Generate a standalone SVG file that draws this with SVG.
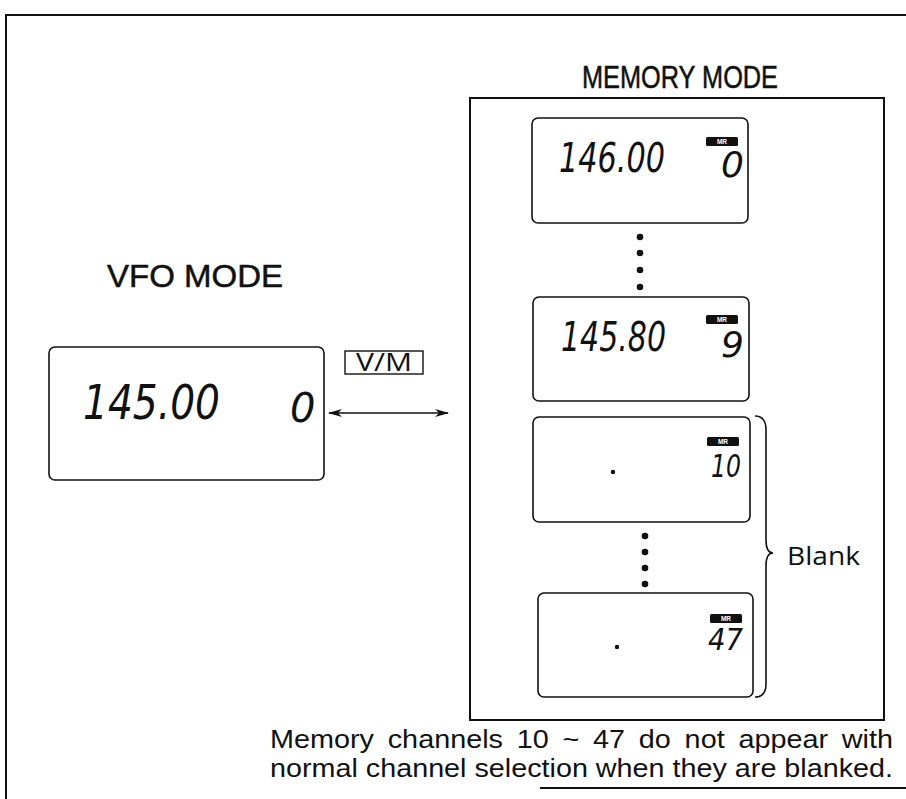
<svg xmlns="http://www.w3.org/2000/svg" width="906" height="799" viewBox="0 0 906 799">
<style>
.frame{fill:none;stroke:#111;stroke-width:2}
.lcd{fill:#fff;stroke:#111;stroke-width:1.6}
.title{font-family:"Liberation Sans",Arial,sans-serif;font-size:32px;fill:#111;stroke:#111;stroke-width:0.5}
.body{font-family:"Open Sans","Liberation Sans",sans-serif;font-size:26px;fill:#111}
.note{font-family:"Liberation Sans",Arial,sans-serif;font-size:25px;fill:#111}
.seg{font-family:"DejaVu Sans",sans-serif;font-style:italic;fill:#111}
.badge{fill:#111}
.badgetxt{font-family:"Liberation Sans",Arial,sans-serif;font-size:6.5px;font-weight:bold;fill:#fff}
.dot{fill:#111}
</style>
<defs>
<marker id="ah" viewBox="0 0 14 8" refX="13" refY="4" markerWidth="14" markerHeight="8" markerUnits="userSpaceOnUse" orient="auto-start-reverse">
<path d="M0,0 L14,4 L0,8 L4,4 Z" fill="#111"/>
</marker>
</defs>
<rect width="906" height="799" fill="#fff"/>
<g id="border">
<path class="frame" d="M906,15 L6,15 L6,799"/>
<path class="frame" d="M540,788 L906,788"/>
</g>
<g id="vfo-title"><text class="title" x="107" y="287" font-size="30" textLength="176" lengthAdjust="spacingAndGlyphs">VFO  MODE</text></g>
<g id="memory-title"><text class="title" x="582" y="88" textLength="196" lengthAdjust="spacingAndGlyphs">MEMORY  MODE</text></g>
<g id="vfo-display">
<rect class="lcd" x="49" y="347" width="275" height="133" rx="6"/>
<text class="seg" x="83" y="419" font-size="48" textLength="137" lengthAdjust="spacingAndGlyphs">145.00</text>
<text class="seg" x="290" y="422" font-size="40">0</text>
</g>
<g id="vm-key">
<rect x="345" y="351" width="78" height="23" fill="#fff" stroke="#111" stroke-width="1.4"/>
<text class="body" x="356" y="370.5" font-size="22" textLength="56" lengthAdjust="spacingAndGlyphs">V/M</text>
</g>
<g id="memory-box">
<rect class="frame" x="470" y="98" width="414" height="622"/>
</g>
<g id="mem-0">
<rect class="lcd" x="532" y="118" width="216" height="105" rx="6"/>
<text class="seg" x="559" y="172" font-size="40" textLength="106" lengthAdjust="spacingAndGlyphs">146.00</text>
<rect class="badge" x="706" y="137" width="32" height="9" rx="1.5"/>
<text class="badgetxt" x="722" y="144" text-anchor="middle">MR</text>
<text class="seg" x="721" y="177" font-size="36">0</text>
</g>
<g id="mem-9">
<rect class="lcd" x="533" y="297" width="216" height="104" rx="6"/>
<text class="seg" x="561" y="351" font-size="40" textLength="105" lengthAdjust="spacingAndGlyphs">145.80</text>
<rect class="badge" x="706" y="315" width="32" height="9" rx="1.5"/>
<text class="badgetxt" x="722" y="322" text-anchor="middle">MR</text>
<text class="seg" x="721" y="357" font-size="36">9</text>
</g>
<g id="mem-10">
<rect class="lcd" x="533" y="417" width="217" height="105" rx="6"/>
<circle class="dot" cx="613" cy="472" r="2.2"/>
<rect class="badge" x="707" y="437" width="32" height="9" rx="1.5"/>
<text class="badgetxt" x="723" y="444" text-anchor="middle">MR</text>
<text class="seg" x="711" y="477" font-size="32" textLength="30" lengthAdjust="spacingAndGlyphs">10</text>
</g>
<g id="mem-47">
<rect class="lcd" x="538" y="593" width="215" height="104" rx="6"/>
<circle class="dot" cx="617" cy="647" r="2.2"/>
<rect class="badge" x="710" y="614" width="32" height="9" rx="1.5"/>
<text class="badgetxt" x="726" y="621" text-anchor="middle">MR</text>
<text class="seg" x="708" y="650" font-size="30" textLength="35" lengthAdjust="spacingAndGlyphs">47</text>
</g>
<g id="ellipsis">
<circle class="dot" cx="640" cy="237" r="3.3"/>
<circle class="dot" cx="640" cy="253" r="3.3"/>
<circle class="dot" cx="640" cy="270" r="3.3"/>
<circle class="dot" cx="640" cy="287" r="3.3"/>
<circle class="dot" cx="645" cy="536" r="3.3"/>
<circle class="dot" cx="645" cy="552" r="3.3"/>
<circle class="dot" cx="645" cy="568" r="3.3"/>
<circle class="dot" cx="645" cy="584" r="3.3"/>
</g>
<g id="blank-label">
<path d="M755,416 Q766,416 766,430 L766,540 Q766,553 773,553 Q766,553 766,566 L766,684 Q766,697 755,697" fill="none" stroke="#111" stroke-width="1.6"/>
<text class="body" x="787" y="565" font-size="26" textLength="73" lengthAdjust="spacingAndGlyphs">Blank</text>
</g>
<g id="connectors">
<line x1="329" y1="413" x2="448" y2="413" stroke="#111" stroke-width="1.6" marker-start="url(#ah)" marker-end="url(#ah)"/>
</g>
<g id="note">
<text class="note" x="270" y="748" word-spacing="5" textLength="623" lengthAdjust="spacingAndGlyphs">Memory channels 10 ~ 47 do not appear with</text>
<text class="note" x="270" y="777" textLength="623" lengthAdjust="spacingAndGlyphs">normal channel selection when they are blanked.</text>
</g>
</svg>
